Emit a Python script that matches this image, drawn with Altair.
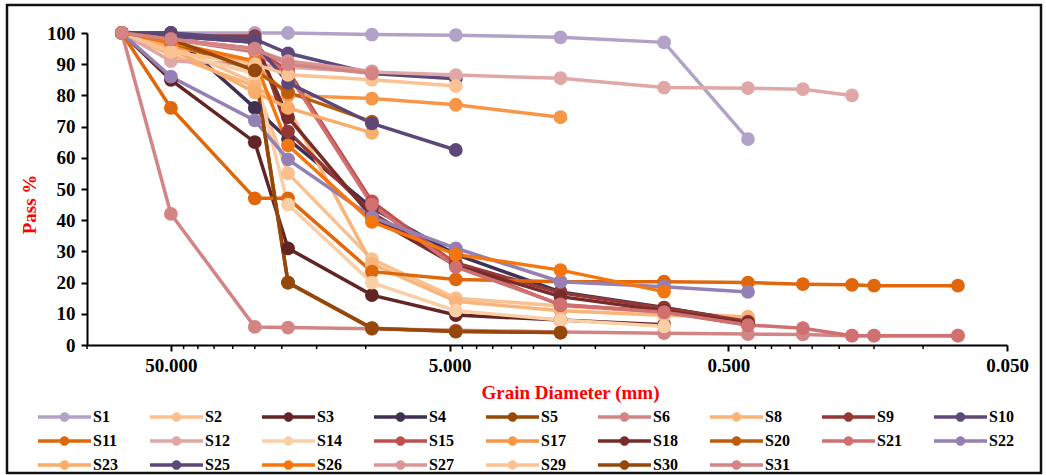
import altair as alt
import pandas as pd

# Sieve sizes (mm)
SIEVES = [75, 50, 25, 19, 9.5, 4.75, 2.0, 0.85, 0.425, 0.27, 0.18, 0.15, 0.075]

SERIES = ["S1", "S2", "S3", "S4", "S5", "S6", "S8", "S9", "S10",
          "S11", "S12", "S14", "S15", "S17", "S18", "S20", "S21", "S22",
          "S23", "S25", "S26", "S27", "S29", "S30", "S31"]

S1 = [100, 100, 100, 100, 99.5, 99.3, 98.6, 97.0, 66.0]
S2 = [100, 96, 84, 55, 27.5, 15, 12.5, 10.5, 9.0]
S3 = [100, 85, 65, 31, 16, 9.6, 8.0, 6.5]
S4 = [100, 100, 76, 66, 44, 29, 17, 12, 7.5]
S5 = [100, 97, 89, 20, 5.4, 4.3, 4.0]
S6 = [100, 42, 5.8, 5.6, 5.2, 4.7, 4.2, 3.8, 3.5, 3.4, 3.0, 3.0, 3.0]
S8 = [100, 93, 83, 76, 26, 14, 11, 9.5, 9.0]
S9 = [100, 99, 99, 68.4, 42.3, 26.3, 16.7, 11.9, 7.5]
S10 = [100, 100, 98, 93.5, 87, 85.3]
S11 = [100, 76, 47, 47, 23.5, 21, 20.3, 20.3, 20.0, 19.5, 19.3, 19.0, 19.0]
S12 = [100, 91, 90, 89, 87.5, 86.5, 85.5, 82.5, 82.3, 82.0, 80.0]
S14 = [100, 94, 87, 45, 20, 11, 8, 6]
S15 = [100, 98, 95, 88, 46, 26, 12.8, 10.7, 6.4]
S17 = [100, 96, 90, 80, 79, 77, 73]
S18 = [100, 99, 97, 73, 41, 25.5, 15.5, 11, 7]
S20 = [100, 97, 88, 81, 71.6]
S21 = [100, 98, 94, 87, 45, 25, 13, 10.5, 6.4, 5.4, 3.0, 3.0, 3.0]
S22 = [100, 86, 72, 59.5, 41, 31, 20.3, 18.7, 17]
S23 = [100, 95, 81, 76, 68]
S25 = [100, 99, 97, 84, 71, 62.5]
S26 = [100, 97, 91, 64, 39.5, 29, 24, 17.1]
S27 = [100, 98, 94.6, 91, 87.7]
S29 = [100, 94, 90, 86.6, 85, 83]
S30 = [100, 98, 88, 20, 5.3, 4.4, 4.0]
S31 = [100, 98, 95, 90, 87]

VALUES = [S1, S2, S3, S4, S5, S6, S8, S9, S10, S11, S12, S14, S15, S17, S18,
          S20, S21, S22, S23, S25, S26, S27, S29, S30, S31]

COLORS = ["#b3a2c7", "#fac090", "#632523", "#403152", "#984807", "#d38585",
          "#f9b47a", "#953735", "#5f497a", "#e0680a", "#dfa8a6", "#fbcfa6",
          "#c0504d", "#f79646", "#772c2a", "#bd5d0b", "#d07070", "#9580b5",
          "#f9ad6a", "#5d4778", "#f5760f", "#d99694", "#fbc394", "#96470a",
          "#d48484"]

MAJOR_TICKS = [50, 5, 0.5, 0.05]
MINOR_TICKS = [100, 45, 40, 35, 30, 25, 20, 15, 10,
               4.5, 4, 3.5, 3, 2.5, 2, 1.5, 1,
               0.45, 0.4, 0.35, 0.3, 0.25, 0.2, 0.15, 0.1]
Y_TICKS = [0, 10, 20, 30, 40, 50, 60, 70, 80, 90, 100]

rows = []
for order, (name, vals) in enumerate(zip(SERIES, VALUES)):
    for d, v in zip(SIEVES, vals):
        rows.append({"series": name, "d": d, "p": v, "o": order})
df = pd.DataFrame(rows)

FONT = "Liberation Serif"

xscale = alt.Scale(type="log", domain=[0.05, 100], reverse=True, nice=False)
yscale = alt.Scale(domain=[0, 100], nice=False)
cscale = alt.Scale(domain=SERIES, range=COLORS)

# filled legend glyph: thin bar + circle (both filled)
legend_path = ("M-1,-0.065H1V0.065H-1Z"
               "M-0.18,0A0.18,0.18 0 1,1 0.18,0A0.18,0.18 0 1,1 -0.18,0Z")


def make_legend():
    return alt.Legend(
        title=None, orient="none", legendX=-49, legendY=374,
        columns=9, direction="horizontal", gridAlign="all",
        columnPadding=32, rowPadding=4, clipHeight=20,
        symbolType=legend_path, symbolSize=2809, symbolStrokeWidth=0,
        symbolOpacity=1,
        labelFont=FONT, labelFontSize=16, labelFontWeight="bold",
        labelColor="black", labelOffset=2, padding=0,
    )


def make_xaxis():
    return alt.Axis(
        values=MAJOR_TICKS, format=".3f", title="Grain Diameter (mm)",
        labelFont=FONT, labelFontSize=19, labelFontWeight="bold",
        labelColor="black", labelPadding=5, tickSize=6, tickWidth=2,
        tickColor="black", domainColor="black", domainWidth=2, grid=False,
        labelFlush=False, labelOverlap=False,
        titleFont=FONT, titleFontSize=19, titleFontWeight="bold",
        titleColor="red", titleX=483, titleY=53, titleBaseline="alphabetic",
        titleAnchor="middle", titleAlign="center",
    )


def make_yaxis():
    return alt.Axis(
        values=Y_TICKS, title="Pass %",
        labelFont=FONT, labelFontSize=19, labelFontWeight="bold",
        labelColor="black", labelPadding=6, tickSize=6, tickWidth=2,
        tickColor="black", domainColor="black", domainWidth=2, grid=False,
        labelOverlap=False, labelFlush=False,
        titleFont=FONT, titleFontSize=19, titleFontWeight="bold",
        titleColor="red", titleX=-58, titleY=171, titleBaseline="middle",
        titleAlign="center", titleAngle=-90,
    )


lines = alt.Chart(df).mark_line(strokeWidth=3.5).encode(
    x=alt.X("d:Q", scale=xscale, axis=make_xaxis()),
    y=alt.Y("p:Q", scale=yscale, axis=make_yaxis()),
    color=alt.Color("series:N", scale=cscale, legend=make_legend(),
                    sort=SERIES),
    detail="series:N",
    order=alt.Order("d:Q", sort="descending"),
)

points = alt.Chart(df).mark_point(filled=True, size=190, opacity=1,
                                  shape="circle").encode(
    x=alt.X("d:Q", scale=xscale, axis=make_xaxis()),
    y=alt.Y("p:Q", scale=yscale, axis=make_yaxis()),
    color=alt.Color("series:N", scale=cscale, legend=make_legend(),
                    sort=SERIES),
)

minor = alt.Chart(pd.DataFrame({"t": MINOR_TICKS})).mark_rule(
    color="black", strokeWidth=1.5).encode(
    x=alt.X("t:Q", scale=xscale, axis=make_xaxis()),
    y=alt.value(312), y2=alt.value(316),
)

border = alt.Chart(pd.DataFrame({"a": [0]})).mark_rect(
    fill=None, stroke="#111111", strokeWidth=2.5).encode(
    x=alt.value(-80), x2=alt.value(954),
    y=alt.value(-28), y2=alt.value(440),
)

chart = alt.layer(border, minor, lines, points).properties(
    width=920, height=312,
    autosize=alt.AutoSizeParams(type="none"),
    padding={"left": 87, "top": 33, "right": 39, "bottom": 130},
    background="white",
).configure_view(stroke=None)

chart.save("out.html", embed_options={"renderer": "svg", "actions": False})
